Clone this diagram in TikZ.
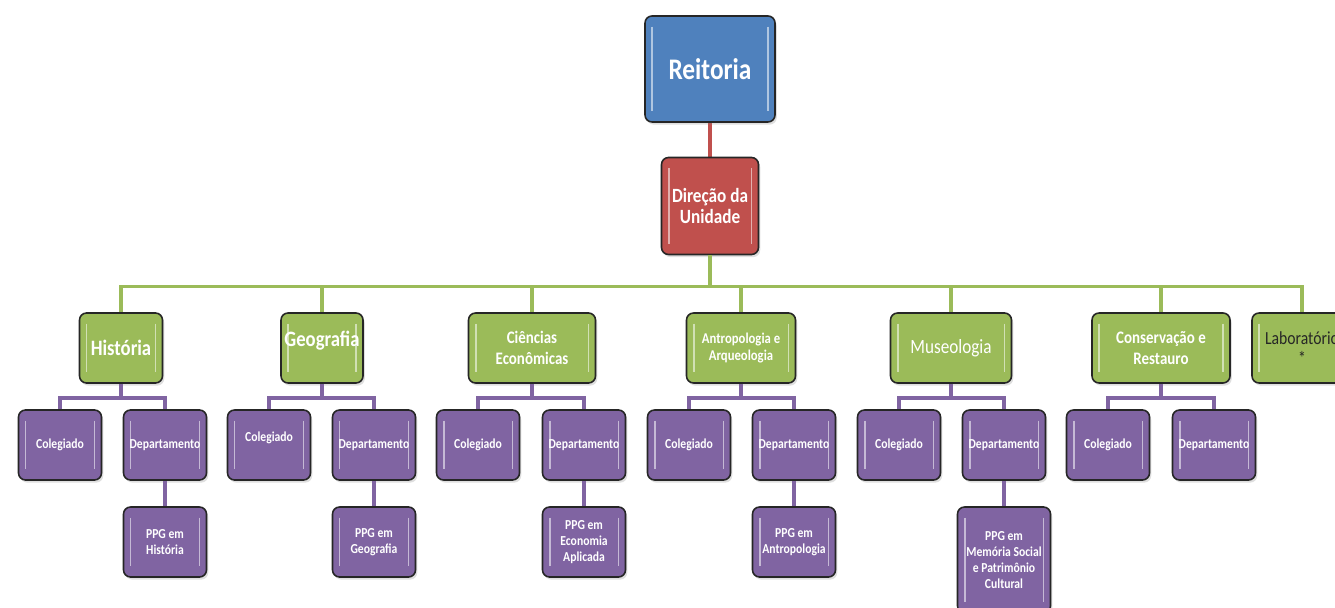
\documentclass[tikz,border=0pt]{standalone}
\usepackage{fontspec}
\setmainfont{Carlito}[FakeStretch=0.85]
\usepackage{xcolor}
\usepackage{tikz}
\usetikzlibrary{shadows}

\definecolor{reiblue}{HTML}{4F81BD}
\definecolor{dirred}{HTML}{C0504D}
\definecolor{unigreen}{HTML}{9BBB59}
\definecolor{subpurple}{HTML}{8064A2}

\begin{document}
\begin{tikzpicture}[
  box/.style={draw=black!85, line width=0.9pt, rounded corners=4pt, align=center,
              inner sep=1pt, text=white, font=\bfseries,
              drop shadow={opacity=0.25, shadow xshift=1pt, shadow yshift=-1.5pt},
              path picture={
                \draw[white, opacity=0.55, line width=1.1pt]
                  ([xshift=4pt,yshift=-6pt]path picture bounding box.north west) --
                  ([xshift=4pt,yshift=6pt]path picture bounding box.south west);
                \draw[white, opacity=0.55, line width=1.1pt]
                  ([xshift=-4pt,yshift=-6pt]path picture bounding box.north east) --
                  ([xshift=-4pt,yshift=6pt]path picture bounding box.south east);}},
  top/.style={box, fill=reiblue, minimum width=2.6cm, minimum height=2.12cm,
              font=\fontsize{17}{19}\selectfont\bfseries},
  dir/.style={box, fill=dirred, minimum width=1.94cm, minimum height=1.94cm,
              font=\fontsize{11.5}{12.5}\selectfont\bfseries},
  unit/.style={box, fill=unigreen, minimum height=1.4cm},
  sub/.style={box, fill=subpurple, minimum width=1.66cm, minimum height=1.4cm,
              font=\fontsize{7.8}{9}\selectfont\bfseries},
  rline/.style={draw=dirred, line width=1.8pt},
  gline/.style={draw=unigreen, line width=1.8pt},
  pline/.style={draw=subpurple, line width=2.3pt}
]
\clip (0,0) rectangle (26.7,-12.16);
\useasboundingbox (0,0) rectangle (26.7,-12.16);

% ---- connectors first, boxes drawn on top ----
\coordinate (ctop) at (14.2,-2.44);
\coordinate (cdir) at (14.2,-3.16);
\draw[rline] (ctop) -- (cdir);

% ---- top levels ----
\node[top] (rei) at (14.2,-1.38) {Reitoria};
\node[dir] (dirun) at (14.2,-4.12) {Direção da\\Unidade};

% ---- academic units ----
\node[unit, minimum width=1.66cm, font=\fontsize{12.5}{15}\selectfont\bfseries] (hist) at (2.42,-6.96) {História};
\node[unit, minimum width=1.64cm, font=\fontsize{12.5}{15}\selectfont\bfseries] (geo) at (6.44,-6.96) {\raisebox{11pt}{Geografia}};
\node[unit, minimum width=2.54cm, font=\fontsize{10}{12}\selectfont\bfseries] (econ) at (10.64,-6.96) {Ciências\\Econômicas};
\node[unit, minimum width=2.18cm, font=\fontsize{8.5}{10}\selectfont\bfseries] (antro) at (14.82,-6.96) {Antropologia e\\Arqueologia};
\node[unit, minimum width=2.42cm, font=\fontsize{11.5}{14}\selectfont] (museo) at (19.02,-6.96) {Museologia};
\node[unit, minimum width=2.76cm, font=\fontsize{10}{12}\selectfont\bfseries] (cons) at (23.22,-6.96) {Conservação e\\Restauro};
\node[unit, minimum width=2.0cm, text=black!85, font=\fontsize{10.5}{11}\selectfont] (lab) at (26.04,-6.96) {Laboratório\\{}*};

\draw[gline] (dirun.south) -- ++(0,-0.62) -| (hist.north);
\draw[gline] (dirun.south) -- ++(0,-0.62) -| (geo.north);
\draw[gline] (dirun.south) -- ++(0,-0.62) -| (econ.north);
\draw[gline] (dirun.south) -- ++(0,-0.62) -| (antro.north);
\draw[gline] (dirun.south) -- ++(0,-0.62) -| (museo.north);
\draw[gline] (dirun.south) -- ++(0,-0.62) -| (cons.north);
\draw[gline] (dirun.south) -- ++(0,-0.62) -| (lab.north);

% ---- colegiados and departamentos ----
\node[sub] (histcol) at (1.2,-8.9) {Colegiado};
\node[sub] (histdep) at (3.3,-8.9) {Departamento};
\node[sub] (geocol) at (5.38,-8.9) {\raisebox{9pt}{Colegiado}};
\node[sub] (geodep) at (7.48,-8.9) {Departamento};
\node[sub] (econcol) at (9.56,-8.9) {Colegiado};
\node[sub] (econdep) at (11.68,-8.9) {Departamento};
\node[sub] (antrocol) at (13.78,-8.9) {Colegiado};
\node[sub] (antrodep) at (15.88,-8.9) {Departamento};
\node[sub] (museocol) at (17.98,-8.9) {Colegiado};
\node[sub] (museodep) at (20.08,-8.9) {Departamento};
\node[sub] (conscol) at (22.16,-8.9) {Colegiado};
\node[sub] (consdep) at (24.28,-8.9) {Departamento};

\draw[pline] (hist.south) -- ++(0,-0.28) -| (histcol.north);
\draw[pline] (hist.south) -- ++(0,-0.28) -| (histdep.north);
\draw[pline] (geo.south) -- ++(0,-0.28) -| (geocol.north);
\draw[pline] (geo.south) -- ++(0,-0.28) -| (geodep.north);
\draw[pline] (econ.south) -- ++(0,-0.28) -| (econcol.north);
\draw[pline] (econ.south) -- ++(0,-0.28) -| (econdep.north);
\draw[pline] (antro.south) -- ++(0,-0.28) -| (antrocol.north);
\draw[pline] (antro.south) -- ++(0,-0.28) -| (antrodep.north);
\draw[pline] (museo.south) -- ++(0,-0.28) -| (museocol.north);
\draw[pline] (museo.south) -- ++(0,-0.28) -| (museodep.north);
\draw[pline] (cons.south) -- ++(0,-0.28) -| (conscol.north);
\draw[pline] (cons.south) -- ++(0,-0.28) -| (consdep.north);

% ---- graduate programmes ----
\node[sub] (histppg) at (3.3,-10.84) {PPG em\\História};
\node[sub] (geoppg) at (7.48,-10.84) {PPG em\\Geografia};
\node[sub] (econppg) at (11.68,-10.84) {PPG em\\Economia\\Aplicada};
\node[sub] (antroppg) at (15.88,-10.84) {PPG em\\Antropologia};
\node[sub, minimum width=1.86cm, minimum height=2.12cm] (museoppg) at (20.08,-11.2) {PPG em\\Memória Social\\e Patrimônio\\Cultural};

\draw[pline] (histdep) -- (histppg);
\draw[pline] (geodep) -- (geoppg);
\draw[pline] (econdep) -- (econppg);
\draw[pline] (antrodep) -- (antroppg);
\draw[pline] (museodep) -- (museoppg);
\end{tikzpicture}
\end{document}
